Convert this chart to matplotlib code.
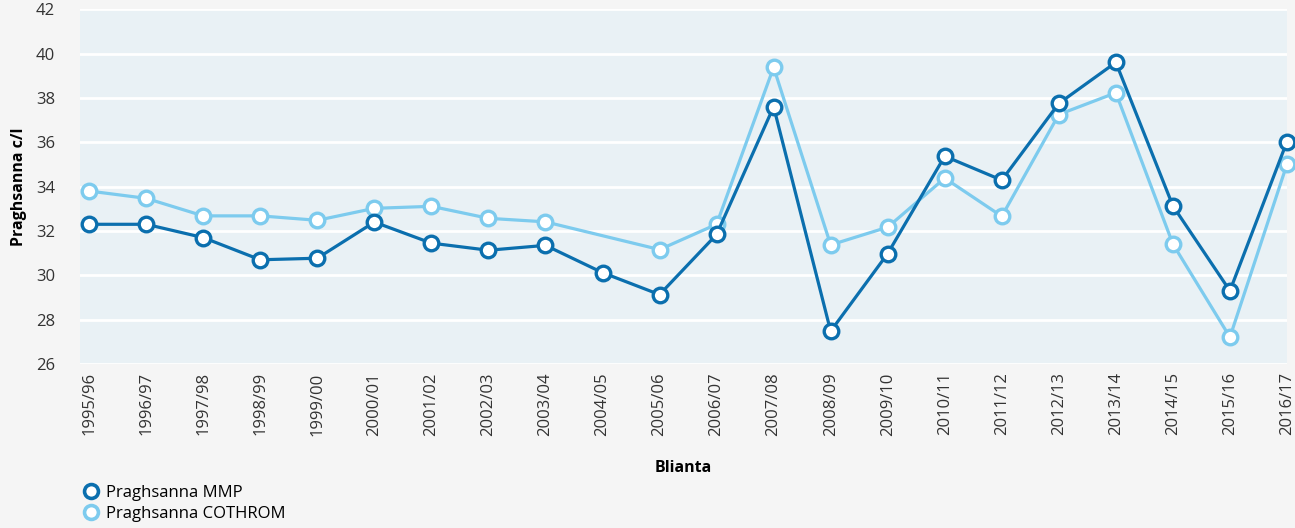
import numpy as np
import matplotlib
matplotlib.use("Agg")
import matplotlib.pyplot as plt
from matplotlib.lines import Line2D

seasons = ["1995/96", "1996/97", "1997/98", "1998/99", "1999/00", "2000/01",
           "2001/02", "2002/03", "2003/04", "2004/05", "2005/06", "2006/07",
           "2007/08", "2008/09", "2009/10", "2010/11", "2011/12", "2012/13",
           "2013/14", "2014/15", "2015/16", "2016/17"]
mmp = [32.3, 32.3, 31.7, 30.7, 30.77, 32.4, 31.45, 31.13, 31.35, 30.12,
       29.13, 31.84, 37.6, 27.48, 30.98, 35.37, 34.29, 37.75, 39.6, 33.13,
       29.3, 36.03]
# no COTHROM value for 2004/05
cothrom = [33.8, 33.47, 32.68, 32.68, 32.48, 33.02, 33.11, 32.57, 32.41, np.nan,
           31.16, 32.3, 39.38, 31.37, 32.17, 34.38, 32.66, 37.25, 38.23, 31.41,
           27.21, 35.01]

dark = "#0b6fae"
light = "#7dcbee"
plt.rcParams["font.family"] = ["Open Sans", "DejaVu Sans"]

fig = plt.figure(figsize=(12.95, 5.28), dpi=100, facecolor="#f5f5f5")
ax = fig.add_axes([0.0618, 0.3106, 0.932, 0.672])
ax.set_facecolor("#e9f1f5")

x = np.arange(len(seasons))
c = np.array(cothrom)
ok = ~np.isnan(c)
ax.plot(x[ok], c[ok], color=light, lw=2.3, marker="o", ms=10.5,
        mfc="white", mec=light, mew=2.4, clip_on=False, zorder=3)
ax.plot(x, mmp, color=dark, lw=2.3, marker="o", ms=10.5,
        mfc="white", mec=dark, mew=2.4, clip_on=False, zorder=4)

ax.set_xlim(-0.16, 21)
ax.set_ylim(26, 42)
ax.set_yticks(np.arange(26, 43, 2))
ax.set_xticks(x)
ax.set_xticklabels(seasons, rotation=90, fontsize=12, color="#333333")
ax.tick_params(axis="y", labelsize=12, labelcolor="#333333", pad=18)
ax.tick_params(length=0)
ax.tick_params(axis="x", pad=6)
ax.grid(axis="y", color="white", lw=2)
ax.set_axisbelow(True)
for s in ax.spines.values():
    s.set_visible(False)

ax.set_ylabel("Praghsanna c/l", fontsize=11.5, fontweight="bold", labelpad=6)
ax.set_xlabel("Blianta", fontsize=11.5, fontweight="bold", labelpad=17)

handles = [Line2D([], [], ls="none", marker="o", ms=10, mfc="white", mec=dark, mew=2.6),
           Line2D([], [], ls="none", marker="o", ms=10, mfc="white", mec=light, mew=2.6)]
fig.legend(handles, ["Praghsanna MMP", "Praghsanna COTHROM"], loc="upper left",
           bbox_to_anchor=(0.058, 0.094), frameon=False, fontsize=12,
           handletextpad=0.35, labelspacing=0.3, borderaxespad=0, handlelength=1.1)

fig.savefig("out.png", dpi=100, facecolor=fig.get_facecolor())
